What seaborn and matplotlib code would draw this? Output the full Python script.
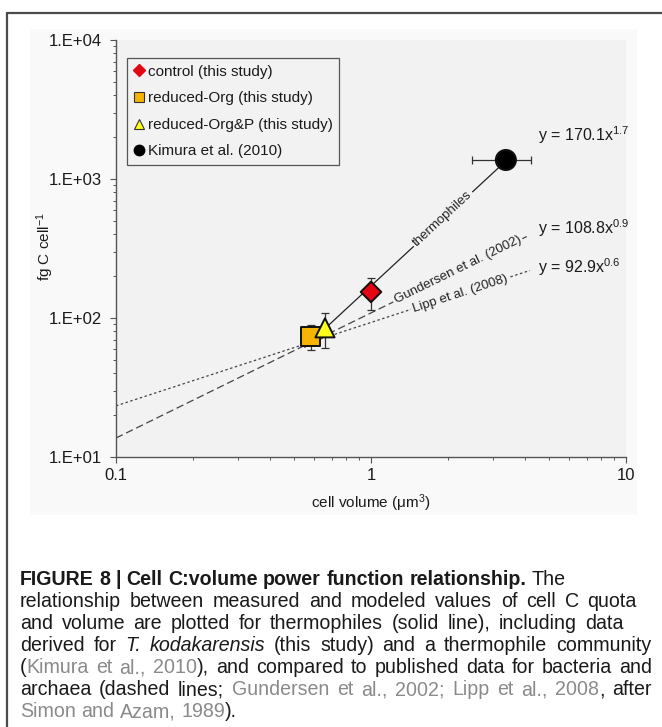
import numpy as np
import pandas as pd
import matplotlib
matplotlib.use("Agg")
import matplotlib.pyplot as plt
import seaborn as sns
from matplotlib import font_manager as fm
from matplotlib.lines import Line2D
from matplotlib.patches import Rectangle
from matplotlib.ticker import FixedLocator, FixedFormatter, LogLocator, NullFormatter

# ---------------- data ----------------
groups = ["control (this study)", "reduced-Org (this study)",
          "reduced-Org&P (this study)", "Kimura et al. (2010)"]
cell_volume = [1.0, 0.58, 0.66, 3.38]
cell_carbon = [154, 74, 85, 1370]
carbon_err = [40, 15, 24, 0]
volume_err = [0, 0, 0, 0.88]

fit_names = ["thermophiles", "Gundersen et al. (2002)", "Lipp et al. (2008)"]
fit_coef = [170.1, 108.8, 92.9]
fit_exp = [1.7, 0.9, 0.6]
fit_xmin = [0.55, 0.1, 0.1]
fit_xmax = [3.38, 4.2, 4.2]
fit_label_x = [1.916, 2.19, 2.23]
fit_equations = [r"y = 170.1x$^{1.7}$", r"y = 108.8x$^{0.9}$", r"y = 92.9x$^{0.6}$"]
eq_pos_y = [2074, 444, 233]

y_ticks = [10, 100, 1000, 10000]
y_tick_labels = ["1.E+01", "1.E+02", "1.E+03", "1.E+04"]
x_ticks = [0.1, 1, 10]
x_tick_labels = ["0.1", "1", "10"]

# ---------------- style ----------------
sns.set_theme(style="white")
plt.rcParams["font.family"] = ["Liberation Sans", "DejaVu Sans"]
plt.rcParams["mathtext.fontset"] = "custom"
plt.rcParams["mathtext.rm"] = "Liberation Sans"
plt.rcParams["mathtext.it"] = "Liberation Sans:italic"
plt.rcParams["mathtext.bf"] = "Liberation Sans:bold"

W, H = 662, 727
fig = plt.figure(figsize=(W / 100, H / 100), dpi=100)
fig.patch.set_facecolor("white")

# chart area (very light) and frame
fig.patches.append(Rectangle((30 / W, 1 - 515 / H), (637 - 30) / W, (515 - 29) / H,
                             transform=fig.transFigure, facecolor="#f9f9f9",
                             edgecolor="none", zorder=-5))
fig.add_artist(Line2D([7 / W, 7 / W], [0, 1 - 13 / H], transform=fig.transFigure,
                      color="#4a4a4a", lw=1.6))
fig.add_artist(Line2D([7 / W, 1], [1 - 13 / H, 1 - 13 / H], transform=fig.transFigure,
                      color="#4a4a4a", lw=1.6))

ax = fig.add_axes([116 / W, 1 - 457 / H, (626 - 116) / W, (457 - 40) / H])
ax.set_zorder(2)
ax.set_facecolor("#f2f2f2")
ax.set_xscale("log")
ax.set_yscale("log")
ax.set_xlim(0.1, 10)
ax.set_ylim(10, 10000)

# ---------------- fit lines ----------------
rows = []
for name, c, e, x0, x1 in zip(fit_names, fit_coef, fit_exp, fit_xmin, fit_xmax):
    for xv in (x0, x1):
        rows.append({"fit": name, "x": xv, "y": c * xv ** e})
fits = pd.DataFrame(rows)
sns.lineplot(data=fits, x="x", y="y", hue="fit", style="fit",
             palette={fit_names[0]: "#222222", fit_names[1]: "#444444", fit_names[2]: "#444444"},
             dashes={fit_names[0]: "", fit_names[1]: (6, 3), fit_names[2]: (2, 2)},
             linewidth=0.9, estimator=None, sort=False,
             legend=False, ax=ax, zorder=1.5)

# inline labels on the lines (with gaps)
for name, c, e, xl in zip(fit_names, fit_coef, fit_exp, fit_label_x):
    yl = c * xl ** e
    p1 = ax.transData.transform((xl, yl))
    p2 = ax.transData.transform((xl * 2, c * (xl * 2) ** e))
    ang = np.degrees(np.arctan2(p2[1] - p1[1], p2[0] - p1[0]))
    ax.text(xl, yl, name, rotation=ang, rotation_mode="anchor", ha="center",
            va="center", fontsize=9.5, color="#222222", zorder=2.5,
            bbox=dict(boxstyle="square,pad=0.15", facecolor="#f2f2f2", edgecolor="none"))

for eq, yv in zip(fit_equations, eq_pos_y):
    ax.text(4.52, yv, eq, ha="left", va="center", fontsize=11.5, color="#1a1a1a", zorder=3)

# ---------------- points ----------------
pts = pd.DataFrame({"group": groups, "volume": cell_volume, "carbon": cell_carbon,
                    "cerr": carbon_err, "verr": volume_err})
ax.errorbar(pts["volume"], pts["carbon"], yerr=pts["cerr"], xerr=pts["verr"],
            fmt="none", ecolor="#333333", elinewidth=0.9, capsize=3, capthick=0.9, zorder=2)

colors = {groups[0]: "#e30613", groups[1]: "#f5b400", groups[2]: "#ffff1a", groups[3]: "#000000"}
markers = {groups[0]: "D", groups[1]: "s", groups[2]: "^", groups[3]: "o"}
sizes = {groups[0]: 110, groups[1]: 190, groups[2]: 190, groups[3]: 210}
sns.scatterplot(data=pts, x="volume", y="carbon", hue="group", style="group",
                size="group", sizes=sizes, markers=markers, palette=colors,
                edgecolor="#111111", linewidth=1.4, legend=False, ax=ax, zorder=3)

# ---------------- axes styling ----------------
for s in ["top", "right"]:
    ax.spines[s].set_visible(False)
for s in ["left", "bottom"]:
    ax.spines[s].set_color("#555555")
    ax.spines[s].set_linewidth(1.0)

ax.yaxis.set_major_locator(FixedLocator(y_ticks))
ax.yaxis.set_major_formatter(FixedFormatter(y_tick_labels))
ax.xaxis.set_major_locator(FixedLocator(x_ticks))
ax.xaxis.set_major_formatter(FixedFormatter(x_tick_labels))
ax.yaxis.set_minor_locator(LogLocator(base=10, subs=np.arange(2, 10)))
ax.xaxis.set_minor_locator(LogLocator(base=10, subs=np.arange(2, 10)))
ax.yaxis.set_minor_formatter(NullFormatter())
ax.xaxis.set_minor_formatter(NullFormatter())
ax.tick_params(which="major", direction="out", length=4, width=0.8, color="#555555",
               labelsize=12, labelcolor="#1a1a1a", pad=6, left=True, bottom=True)
ax.tick_params(which="minor", direction="out", length=2.5, width=0.7, color="#555555",
               left=True, bottom=True)
ax.tick_params(axis="x", which="major", pad=4)

ax.set_xlabel(r"cell volume (μm$^{3}$)", fontsize=11, color="#1a1a1a")
ax.set_ylabel(r"fg C cell$^{-1}$", fontsize=11, color="#1a1a1a")
ax.xaxis.set_label_coords(0.5, -0.085)
ax.yaxis.set_label_coords(-0.118, 0.504)

# ---------------- legend ----------------
handles = [
    Line2D([], [], marker="D", ls="none", markersize=6, markerfacecolor=colors[groups[0]],
           markeredgecolor=colors[groups[0]]),
    Line2D([], [], marker="s", ls="none", markersize=7, markerfacecolor=colors[groups[1]],
           markeredgecolor="#333333", markeredgewidth=0.8),
    Line2D([], [], marker="^", ls="none", markersize=7, markerfacecolor=colors[groups[2]],
           markeredgecolor="#333333", markeredgewidth=0.8),
    Line2D([], [], marker="o", ls="none", markersize=7.5, markerfacecolor="#000000",
           markeredgecolor="#000000"),
]
leg = ax.legend(handles, groups, loc="upper left", bbox_to_anchor=(0.0216, 0.957),
                frameon=True, fancybox=False, edgecolor="#555555", facecolor="#f2f2f2",
                framealpha=1, fontsize=11, handlelength=0.7, handletextpad=0.2,
                borderpad=0.45, labelspacing=0.82, borderaxespad=0)
leg.get_frame().set_linewidth(0.9)
for t in leg.get_texts():
    t.set_color("#1a1a1a")

# ---------------- caption ----------------
names = {f.name for f in fm.fontManager.ttflist}
cap_family = "Liberation Sans Narrow" if "Liberation Sans Narrow" in names else "Liberation Sans"

caption_lines = [
    [("FIGURE 8 | Cell C:volume power function relationship.", "b"), (" The", "n")],
    [("relationship between measured and modeled values of cell C quota", "n")],
    [("and volume are plotted for thermophiles (solid line), including data", "n")],
    [("derived for ", "n"), ("T. kodakarensis", "i"), (" (this study) and a thermophile community", "n")],
    [("(", "n"), ("Kimura et al., 2010", "g"), ("), and compared to published data for bacteria and", "n")],
    [("archaea (dashed lines; ", "n"), ("Gundersen et al., 2002; Lipp et al., 2008", "g"), (", after", "n")],
    [("Simon and Azam, 1989", "g"), (").", "n")],
]
caption_right = [None, 637, 624, 651, 652, 652, None]
caption_base = [585 + 22 * i for i in range(7)]
cap_x0 = 20

style_props = {
    "n": dict(color="#1a1a1a"),
    "b": dict(color="#1a1a1a", fontweight="bold"),
    "i": dict(color="#1a1a1a", fontstyle="italic"),
    "g": dict(color="#8a8a8a"),
}

renderer = fig.canvas.get_renderer()


def measure(txt, fs, st):
    t = fig.text(0, 0, txt, fontsize=fs, family=cap_family, **style_props[st])
    w = t.get_window_extent(renderer).width
    t.remove()
    return w


def tokenize(segs):
    words = [[]]
    for text, st in segs:
        parts = text.split(" ")
        for i, p in enumerate(parts):
            if i > 0:
                words.append([])
            if p:
                words[-1].append((p, st))
    return [w for w in words if w]


def space_w(fs):
    return measure("a a", fs, "n") - measure("aa", fs, "n")


def natural_width(segs, fs):
    words = tokenize(segs)
    return sum(measure(p, fs, st) for w in words for p, st in w) + space_w(fs) * (len(words) - 1)


base = 10.0
nat = natural_width(caption_lines[4], base)
cap_fs = base * (652 - cap_x0) * 0.97 / nat

for segs, xr, yb in zip(caption_lines, caption_right, caption_base):
    words = tokenize(segs)
    widths = [[measure(p, cap_fs, st) for p, st in w] for w in words]
    total = sum(sum(w) for w in widths)
    if xr is None:
        gap = space_w(cap_fs)
    else:
        gap = (xr - cap_x0 - total) / max(len(words) - 1, 1)
    x = cap_x0
    for w, ws in zip(words, widths):
        for (p, st), pw in zip(w, ws):
            fig.text(x / W, 1 - yb / H, p, fontsize=cap_fs, family=cap_family,
                     va="baseline", ha="left", **style_props[st])
            x += pw
        x += gap

fig.savefig("out.png", dpi=100, facecolor="white")
